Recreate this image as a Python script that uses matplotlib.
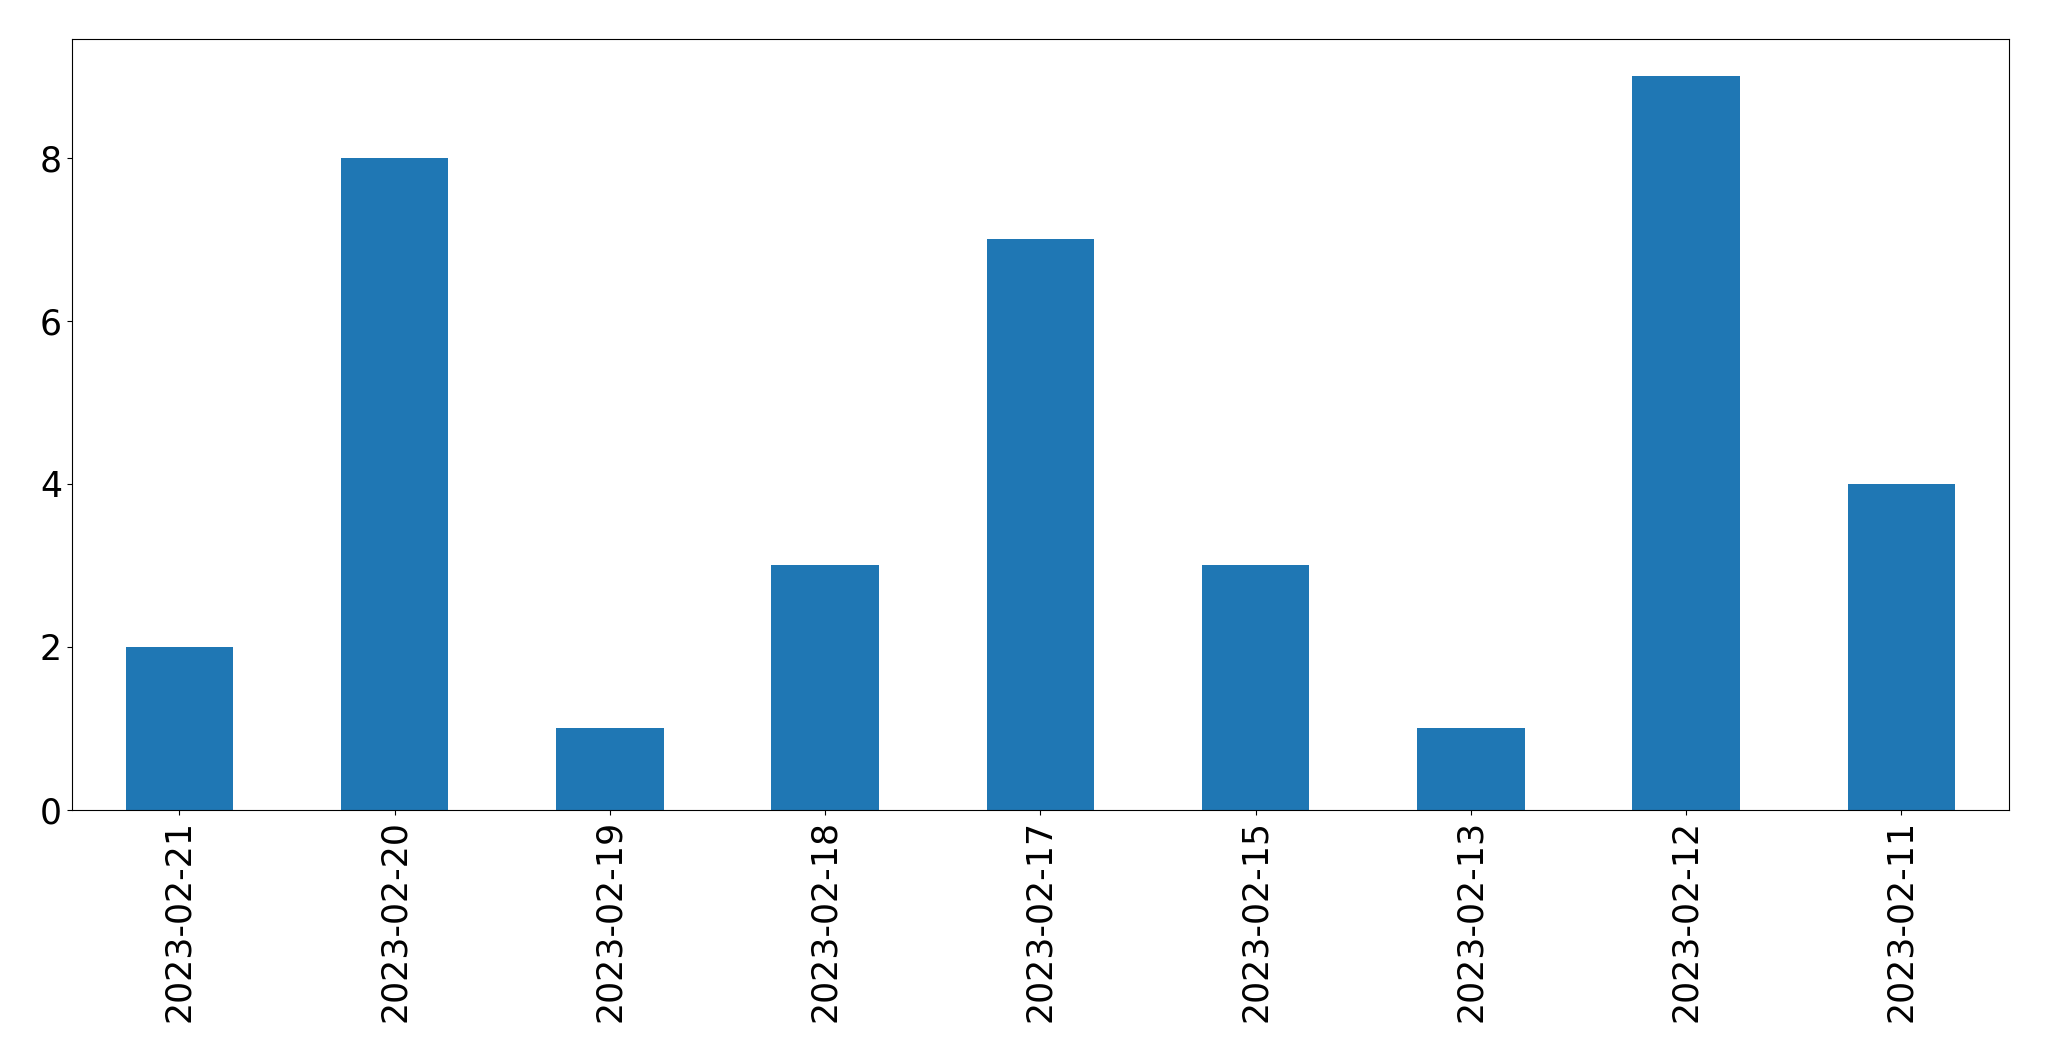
import matplotlib
matplotlib.use("Agg")
import matplotlib.pyplot as plt
import numpy as np

dates = ["2023-02-21", "2023-02-20", "2023-02-19", "2023-02-18", "2023-02-17",
         "2023-02-15", "2023-02-13", "2023-02-12", "2023-02-11"]
counts = [2, 8, 1, 3, 7, 3, 1, 9, 4]

fig = plt.figure(figsize=(20.49, 10.61), dpi=100)
ax = fig.add_axes([0.035, 0.2366, 0.9455, 0.7264])

x = np.arange(len(dates))
ax.bar(x, counts, width=0.5, color="#1f77b4")
ax.set_xlim(-0.5, len(dates) - 0.5)
ax.set_ylim(0, 9.45)
ax.set_xticks(x)
ax.set_xticklabels(dates, rotation=90, fontsize=25)
ax.set_yticks([0, 2, 4, 6, 8])
ax.tick_params(axis="y", labelsize=25)

fig.savefig("out.png", dpi=100)
